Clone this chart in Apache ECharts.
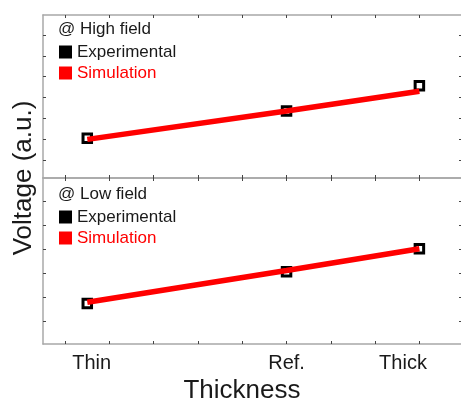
<!DOCTYPE html>
<html>
<head>
<meta charset="utf-8">
<script src="https://cdn.jsdelivr.net/npm/echarts@6/dist/echarts.min.js"></script>
<style>
  html, body { margin: 0; padding: 0; background: #fff; overflow: hidden; }
  #chart { width: 461px; height: 402px; }
</style>
</head>
<body>
<div id="chart"></div>
<script>
// thickness positions (a.u.) and read-off voltages for each panel
const thicknessX = [0.5, 5, 8]
const highExp = [1.04, 2.35, 3.57]
const highSim = [0.99, 2.35, 3.30]
const lowExp = [0.73, 2.06, 3.02]
const lowSim = [0.78, 2.11, 3.02]

// ticks and labels
const xTicks = [0, 1, 2, 3, 4, 5, 6, 7, 8]
const tickLabelPos = [0.6, 5, 7.63]
const tickLabels = ['Thin', 'Ref.', 'Thick']
const highYTicks = [0, 1, 2, 3, 4, 5, 6]
const lowYTicks = [0, 1, 2, 3, 4, 5]

const FONT = 'Liberation Sans, Arial, sans-serif'
const AXIS_GREY = '#a8a8a8'

const zip = (xs, ys) => xs.map((x, i) => [x, ys[i]])

/**
 * x axis for one panel edge
 */
const makeX = (gridIndex, position, showLabels) => ({
  type: 'value',
  gridIndex,
  position,
  min: -0.5,
  max: 9.03,
  axisLine: { show: true, onZero: false, lineStyle: { color: AXIS_GREY, width: 1.5 } },
  axisTick: { show: true, inside: true, length: 3, customValues: xTicks, lineStyle: { color: '#444' } },
  splitLine: { show: false },
  axisLabel: showLabels
    ? {
        show: true,
        customValues: tickLabelPos,
        margin: 9,
        fontSize: 20,
        fontFamily: FONT,
        color: '#1a1a1a',
        formatter: (v) => tickLabels[tickLabelPos.indexOf(v)] || ''
      }
    : { show: false }
})

/**
 * y axis for one panel edge
 */
const makeY = (gridIndex, position, min, max, ticks) => ({
  type: 'value',
  gridIndex,
  position,
  min,
  max,
  axisLine: { show: true, onZero: false, lineStyle: { color: AXIS_GREY, width: 1.5 } },
  axisTick: { show: true, inside: true, length: position === 'right' ? 6 : 3, customValues: ticks, lineStyle: { color: '#444' } },
  splitLine: { show: false },
  axisLabel: { show: false }
})

const makeSeries = (idx, exp, sim) => [
  {
    name: 'Experimental',
    type: 'scatter',
    xAxisIndex: idx * 2,
    yAxisIndex: idx * 2,
    symbol: 'rect',
    symbolSize: 8.5,
    itemStyle: { color: 'rgba(0,0,0,0)', borderColor: '#000', borderWidth: 3, opacity: 1 },
    z: 2,
    data: zip(thicknessX, exp)
  },
  {
    name: 'Simulation',
    type: 'line',
    xAxisIndex: idx * 2,
    yAxisIndex: idx * 2,
    showSymbol: false,
    lineStyle: { color: '#ff0000', width: 5.5 },
    itemStyle: { color: '#ff0000' },
    z: 3,
    data: zip(thicknessX, sim)
  }
]

const legendData = [
  { name: 'Experimental', icon: 'rect', itemStyle: { color: '#000', borderWidth: 0, opacity: 1 }, textStyle: { color: '#1a1a1a' } },
  { name: 'Simulation', icon: 'rect', itemStyle: { color: '#ff0000', borderWidth: 0, opacity: 1 }, textStyle: { color: '#ff0000' } }
]

const makeLegend = (top) => ({
  left: 59,
  top,
  orient: 'vertical',
  padding: 0,
  itemWidth: 13,
  itemHeight: 13,
  itemGap: 4,
  selectedMode: false,
  textStyle: { fontSize: 17, fontFamily: FONT },
  data: legendData
})

const makeTitle = (text, top) => ({
  text,
  left: 58,
  top,
  padding: 0,
  textStyle: { fontSize: 17, fontWeight: 'normal', fontFamily: FONT, color: '#1a1a1a' }
})

const chart = echarts.init(document.getElementById('chart'))

chart.setOption({
  animation: false,
  title: [makeTitle('@ High field', 21), makeTitle('@ Low field', 186)],
  legend: [makeLegend(43.5), makeLegend(208.5)],
  grid: [
    { left: 43, right: -4, top: 15, height: 163, outerBoundsMode: 'none' },
    { left: 43, right: -4, top: 178, height: 166, outerBoundsMode: 'none' }
  ],
  xAxis: [
    makeX(0, 'bottom', false),
    makeX(0, 'top', false),
    makeX(1, 'bottom', true),
    makeX(1, 'top', false)
  ],
  yAxis: [
    makeY(0, 'left', -0.864, 6.96, highYTicks),
    makeY(0, 'right', -0.864, 6.96, highYTicks),
    makeY(1, 'left', -0.97, 5.98, lowYTicks),
    makeY(1, 'right', -0.97, 5.98, lowYTicks)
  ],
  graphic: [
    {
      type: 'text',
      x: 24,
      y: 178,
      rotation: Math.PI / 2,
      style: { text: 'Voltage (a.u.)', fontSize: 26, fontFamily: FONT, fill: '#1a1a1a', align: 'center', verticalAlign: 'middle' }
    },
    {
      type: 'text',
      x: 242,
      y: 391,
      style: { text: 'Thickness', fontSize: 26, fontFamily: FONT, fill: '#1a1a1a', align: 'center', verticalAlign: 'middle' }
    }
  ],
  series: [...makeSeries(0, highExp, highSim), ...makeSeries(1, lowExp, lowSim)]
})

window.addEventListener('resize', () => chart.resize())
</script>
</body>
</html>
